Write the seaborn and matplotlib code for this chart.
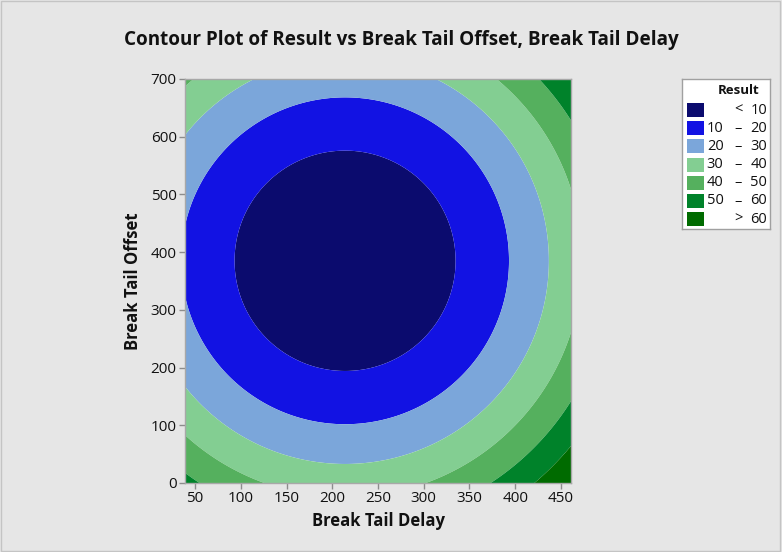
import numpy as np
import matplotlib
matplotlib.use("Agg")
import matplotlib.pyplot as plt
import seaborn as sns

sns.set_theme(style="white")
plt.rcParams['font.family'] = ['Open Sans', 'DejaVu Sans']

# axis ranges of the design space
delay_range = [39, 461]      # Break Tail Delay
offset_range = [0, 700]      # Break Tail Offset

# fitted response surface: Result = b0 + bx*(x-xc)^2 + by*(y-yc)^2
b0 = 1.67
bx = 5.706e-4
by = 2.286e-4
xc = 214
yc = 385

# contour bands
levels = [-100, 10, 20, 30, 40, 50, 60, 1000]
band_colors = ['#0b0b6e', '#1212e3', '#7ba6da', '#83ce92', '#55b05e', '#00822a', '#006b00']
legend_lo = ['', '10', '20', '30', '40', '50', '']
legend_sep = ['<', '\u2013', '\u2013', '\u2013', '\u2013', '\u2013', '>']
legend_hi = ['10', '20', '30', '40', '50', '60', '60']

x_ticks = [50, 100, 150, 200, 250, 300, 350, 400, 450]
y_ticks = [0, 100, 200, 300, 400, 500, 600, 700]

W, H = 782, 552
fig = plt.figure(figsize=(W / 100, H / 100), dpi=100, facecolor='#e6e6e6')


def fx(x):
    return x / W


def fy(y):
    return 1 - y / H


ax = fig.add_axes([fx(185), fy(483), fx(571) - fx(185), fy(79) - fy(483)])

gx = np.linspace(delay_range[0], delay_range[1], 500)
gy = np.linspace(offset_range[0], offset_range[1], 500)
X, Y = np.meshgrid(gx, gy)
Z = b0 + bx * (X - xc) ** 2 + by * (Y - yc) ** 2

ax.contourf(X, Y, Z, levels=levels, colors=band_colors, antialiased=True)
ax.set_xlim(delay_range)
ax.set_ylim(offset_range)
ax.set_xticks(x_ticks)
ax.set_yticks(y_ticks)
ax.tick_params(axis='both', which='major', length=4, width=1, color='#8c8c8c',
               labelsize=11, labelcolor='#111111', direction='out', pad=2)
ax.tick_params(bottom=True, left=True)
for sp in ax.spines.values():
    sp.set_color('#a8a8a8')
    sp.set_linewidth(1)

ax.set_xlabel('Break Tail Delay', fontsize=12, fontweight='bold', color='#111111', labelpad=4)
ax.set_ylabel('Break Tail Offset', fontsize=12, fontweight='bold', color='#111111', labelpad=6)

fig.text(fx(401), fy(40), 'Contour Plot of Result vs Break Tail Offset, Break Tail Delay',
         ha='center', va='center', fontsize=13.6, fontweight='bold', color='#111111')

# legend box drawn by hand to keep Minitab-style column alignment
leg = fig.add_axes([fx(682), fy(229), fx(770) - fx(682), fy(79) - fy(229)])
leg.set_xlim(682, 770)
leg.set_ylim(229, 79)
leg.set_xticks([])
leg.set_yticks([])
leg.set_facecolor('white')
for sp in leg.spines.values():
    sp.set_color('#a0a0a0')
    sp.set_linewidth(1)
leg.text(739, 90.5, 'Result', ha='center', va='center', fontsize=9.5, fontweight='bold', color='#111111')
for i, c in enumerate(band_colors):
    row_y = 110 + i * 18.2
    leg.add_patch(plt.Rectangle((687, row_y - 7), 17, 14, facecolor=c, edgecolor='none'))
    leg.text(723.5, row_y, legend_lo[i], ha='right', va='center', fontsize=10.5, color='#111111')
    leg.text(738, row_y, legend_sep[i], ha='center', va='center', fontsize=10.5, color='#111111')
    leg.text(767, row_y, legend_hi[i], ha='right', va='center', fontsize=10.5, color='#111111')

# thin frame around the whole graph
fig.patches.append(plt.Rectangle((0.001, 0.002), 0.997, 0.996, transform=fig.transFigure,
                                 fill=False, edgecolor='#c4c4c4', linewidth=1))

fig.savefig('out.png', dpi=100, facecolor=fig.get_facecolor())
